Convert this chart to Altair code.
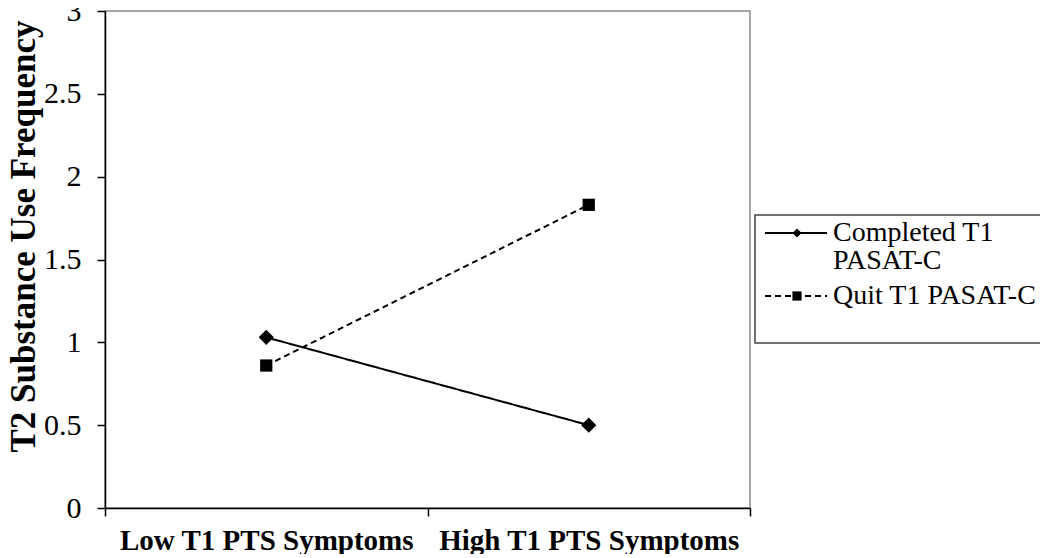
import altair as alt
import pandas as pd

# ---------------- data ----------------
categories = ["Low T1 PTS Symptoms", "High T1 PTS Symptoms"]
series_names = ["Completed T1 PASAT-C", "Quit T1 PASAT-C"]
legend_labels = [["Completed T1", "PASAT-C"], ["Quit T1 PASAT-C"]]
completed = [1.03, 0.50]
quit_vals = [0.86, 1.83]
y_ticks = [0, 0.5, 1, 1.5, 2, 2.5, 3]

rows = []
for i, c in enumerate(categories):
    rows.append({"category": c, "pos": i + 0.5, "series": series_names[0], "value": completed[i]})
    rows.append({"category": c, "pos": i + 0.5, "series": series_names[1], "value": quit_vals[i]})
df = pd.DataFrame(rows)

FONT = "Liberation Serif, Times New Roman, Times, serif"
W, H = 645, 497

label_list = ",".join("'" + c + "'" for c in categories) + ",''"
x_enc = alt.X(
    "pos:Q",
    scale=alt.Scale(domain=[0, len(categories)], nice=False, zero=False),
    axis=alt.Axis(
        values=list(range(len(categories) + 1)),
        labelExpr="[" + label_list + "][datum.value]",
        labelOffset=W / len(categories) / 2,
        labelFlush=False,
        labelOverlap=False,
        labelBound=False,
        labelLimit=0,
        labelFont=FONT,
        labelFontSize=29,
        labelFontWeight="bold",
        labelColor="black",
        labelPadding=10,
        labelBaseline="top",
        tickColor="black",
        tickSize=8,
        tickWidth=1.5,
        domainColor="black",
        domainWidth=1.5,
        grid=False,
        title=None,
    ),
)

y_enc = alt.Y(
    "value:Q",
    scale=alt.Scale(domain=[0, 3], nice=False),
    axis=alt.Axis(
        values=y_ticks,
        format=".1~f",
        labelFont=FONT,
        labelFontSize=30,
        labelColor="black",
        labelPadding=16,
        tickColor="black",
        tickSize=8,
        tickWidth=1.5,
        domainColor="black",
        domainWidth=1.5,
        grid=False,
        title="T2 Substance Use Frequency",
        titleFont=FONT,
        titleFontSize=35,
        titleFontWeight="bold",
        titleColor="black",
        titleAngle=270,
        titleAlign="center",
        titleBaseline="middle",
        titleX=-82,
        titleY=225,
    ),
)

dash_scale = alt.Scale(domain=series_names, range=[[1, 0], [6, 4]])
shape_scale = alt.Scale(domain=series_names, range=["diamond", "square"])
size_scale = alt.Scale(domain=series_names, range=[230, 150])

lines = alt.Chart(df).mark_line(color="black", strokeWidth=2).encode(
    x=x_enc,
    y=y_enc,
    strokeDash=alt.StrokeDash("series:N", scale=dash_scale, legend=None),
    detail="series:N",
)

points = alt.Chart(df).mark_point(filled=True, color="black", opacity=1).encode(
    x=x_enc,
    y=y_enc,
    shape=alt.Shape("series:N", scale=shape_scale, legend=None),
    size=alt.Size("series:N", scale=size_scale, legend=None),
)

# ---------------- legend (drawn beside the plot) ----------------
leg_df = pd.DataFrame({"series": series_names})
box = alt.Chart(leg_df.head(1)).mark_rect(fill="white", stroke="#444", strokeWidth=1.5).encode(
    x=alt.value(650), x2=alt.value(937), y=alt.value(204), y2=alt.value(332)
)

legend_layers = [box]
entry_y = [222, 285]
text_base = [230, 293]
dashes = [[1, 0], [6, 4]]
shapes = ["diamond", "square"]
for i, s in enumerate(series_names):
    sub = alt.Chart(leg_df).transform_filter(alt.datum.series == s)
    legend_layers.append(
        sub.mark_rule(color="black", strokeWidth=2, strokeDash=dashes[i]).encode(
            x=alt.value(660), x2=alt.value(722), y=alt.value(entry_y[i])
        )
    )
    legend_layers.append(
        sub.mark_point(filled=True, color="black", opacity=1, shape=shapes[i], size=85).encode(
            x=alt.value(692), y=alt.value(entry_y[i])
        )
    )
    legend_layers.append(
        sub.mark_text(
            align="left", baseline="alphabetic", font=FONT, fontSize=28, color="black",
            lineHeight=28, text=legend_labels[i]
        ).encode(x=alt.value(728), y=alt.value(text_base[i]))
    )

chart = (
    alt.layer(lines, points, *legend_layers)
    .properties(
        width=W,
        height=H,
        autosize=alt.AutoSizeParams(type="none"),
        padding={"left": 97, "top": 3, "right": 290, "bottom": 46},
    )
    .configure_view(stroke="#8a8a8a", strokeWidth=1.5)
)

chart.save("out.html", embed_options={"renderer": "svg", "actions": False})
